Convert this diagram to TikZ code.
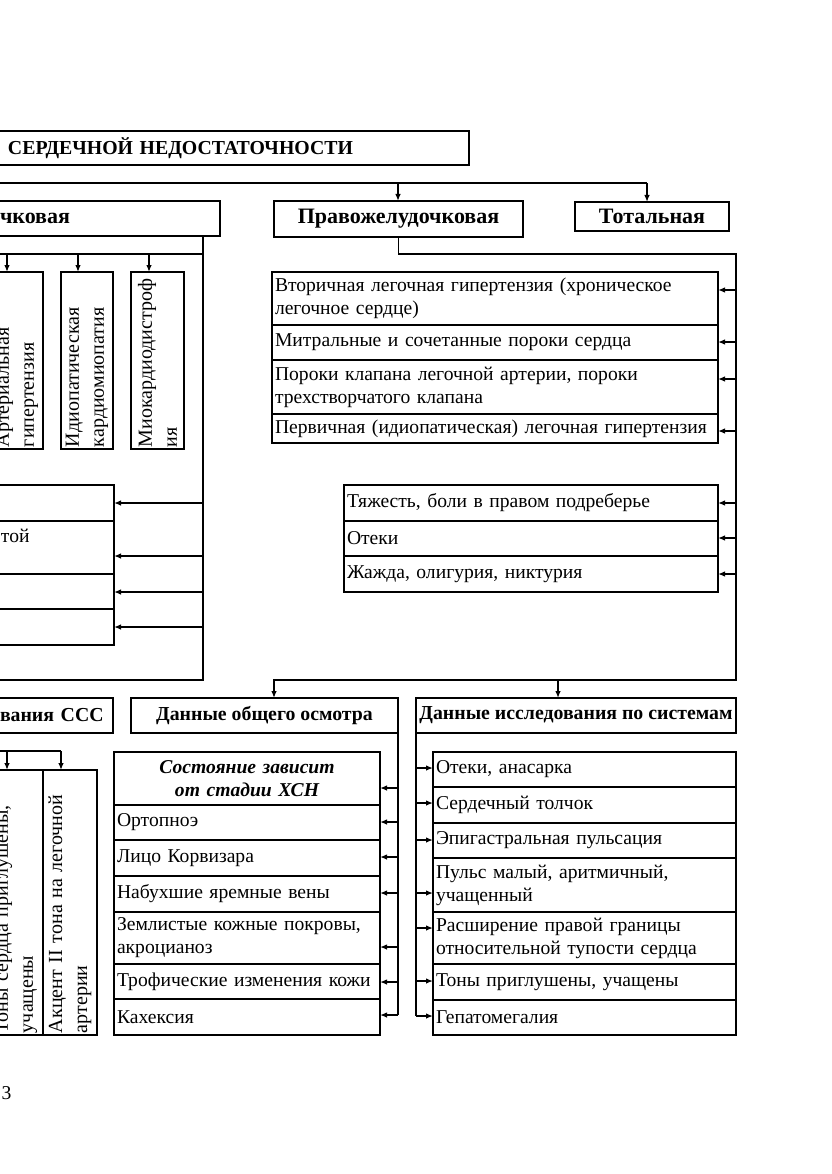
\documentclass[tikz,border=0pt]{standalone}
\usepackage{fontspec}
\setmainfont{Liberation Serif}
\usetikzlibrary{arrows.meta,positioning}

\begin{document}
\begin{tikzpicture}[x=1pt,y=-1pt,line width=1.3pt,font=\fontsize{19.6}{23}\selectfont]
\tikzset{
  cell/.style={draw,rectangle,anchor=north west,outer sep=0pt,inner xsep=3pt,inner ysep=0pt,align=left},
  headbox/.style={draw,rectangle,anchor=north west,outer sep=0pt,inner sep=0pt,font=\fontsize{19.8}{23}\selectfont\bfseries},
  bighead/.style={headbox,font=\fontsize{22}{26}\selectfont\bfseries},
  vcell/.style={draw,rectangle,rotate=90,anchor=north east,outer sep=0pt,inner xsep=2pt,inner ysep=0pt,align=left,font=\fontsize{20}{25}\selectfont},
  cellA/.style={cell,text width=440pt},
  cellB/.style={cell,text width=368pt},
  cellC/.style={cell,text width=110pt},
  cellD/.style={cell,text width=260pt},
  cellE/.style={cell,text width=297pt},
  feed/.style={-{Latex[length=7pt,width=5.5pt]}}
}
\useasboundingbox (0,0) rectangle (831,1174);
\clip (0,0) rectangle (831,1174);
\node[headbox,inner xsep=10pt,text width=451pt,minimum height=34pt,align=left] (n_title) at (-2,131) {СЕРДЕЧНОЙ НЕДОСТАТОЧНОСТИ};
\node[bighead,inner xsep=2pt,text width=218pt,minimum height=35pt,align=left] (n_left) at (-2,201) {чковая};
\node[bighead,minimum width=249pt,minimum height=36pt] (n_right) at (274,201) {Правожелудочковая};
\node[bighead,minimum width=154pt,minimum height=29pt] (n_total) at (575,202) {Тотальная};
\node[vcell,text width=173pt,minimum height=52pt] (n_b1) at (-9,272) {Артериальная\\гипертензия};
\node[vcell,text width=173pt,minimum height=52pt] (n_b2) at (61,272) {Идиопатическая\\кардиомиопатия};
\node[vcell,text width=173pt,minimum height=53pt] (n_b3) at (131,272) {Миокардиодистроф\\ия};
\node[cellA,minimum height=53pt] (n_r1) at (272,272) {Вторичная легочная гипертензия (хроническое\\легочное сердце)};
\node[cellA,minimum height=35pt] (n_r2) at (272,325) {Митральные и сочетанные пороки сердца};
\node[cellA,minimum height=54pt] (n_r3) at (272,360) {Пороки клапана легочной артерии, пороки\\трехстворчатого клапана};
\node[cellA,minimum height=29pt] (n_r4) at (272,414) {Первичная (идиопатическая) легочная гипертензия};
\node[cellC,minimum height=36pt] (n_l1) at (-2,485) {};
\node[cellC,minimum height=53pt] (n_l2) at (-2,521) {той\\~};
\node[cellC,minimum height=35pt] (n_l3) at (-2,574) {};
\node[cellC,minimum height=36pt] (n_l4) at (-2,609) {};
\node[cellB,minimum height=36pt] (n_m1) at (344,485) {Тяжесть, боли в правом подреберье};
\node[cellB,minimum height=35pt] (n_m2) at (344,521) {Отеки};
\node[cellB,minimum height=36pt] (n_m3) at (344,556) {Жажда, олигурия, никтурия};
\node[headbox,inner xsep=2pt,text width=111pt,minimum height=35pt,align=left] (n_ccc) at (-2,698) {вания ССС};
\node[headbox,minimum width=267pt,minimum height=35pt] (n_gen) at (131,698) {Данные общего осмотра};
\node[headbox,minimum width=320pt,minimum height=35pt] (n_sys) at (416,698) {Данные исследования по системам};
\node[vcell,text width=261pt,minimum height=54pt] (n_c1) at (-11,770) {Тоны сердца приглушены,\\учащены};
\node[vcell,text width=261pt,minimum height=54pt] (n_c2) at (43,770) {Акцент II тона на легочной\\артерии};
\node[cellD,minimum height=53pt,align=center,font=\fontsize{19.6}{23}\selectfont\bfseries\itshape] (n_s1) at (114,752) {Состояние зависит\\от стадии ХСН};
\node[cellD,minimum height=35pt] (n_s2) at (114,805) {Ортопноэ};
\node[cellD,minimum height=36pt] (n_s3) at (114,840) {Лицо Корвизара};
\node[cellD,minimum height=36pt] (n_s4) at (114,876) {Набухшие яремные вены};
\node[cellD,minimum height=52pt] (n_s5) at (114,912) {Землистые кожные покровы,\\акроцианоз};
\node[cellD,minimum height=35pt] (n_s6) at (114,964) {Трофические изменения кожи};
\node[cellD,minimum height=36pt] (n_s7) at (114,999) {Кахексия};
\node[cellE,minimum height=35pt] (n_d1) at (433,752) {Отеки, анасарка};
\node[cellE,minimum height=36pt] (n_d2) at (433,787) {Сердечный толчок};
\node[cellE,minimum height=35pt] (n_d3) at (433,823) {Эпигастральная пульсация};
\node[cellE,minimum height=54pt] (n_d4) at (433,858) {Пульс малый, аритмичный,\\учащенный};
\node[cellE,minimum height=52pt] (n_d5) at (433,912) {Расширение правой границы\\относительной тупости сердца};
\node[cellE,minimum height=36pt] (n_d6) at (433,964) {Тоны приглушены, учащены};
\node[cellE,minimum height=35pt] (n_d7) at (433,1000) {Гепатомегалия};
\node[anchor=west,inner sep=0pt] (n_page) at (1,1093) {3};
\coordinate (topbus) at (-4,183);
\coordinate (ta1) at (398,183);
\coordinate (ta2) at (647,183);
\draw (topbus) -- (ta2);
\draw[feed] (ta1) -- (ta1 |- n_right.north);
\draw[feed] (ta2) -- (ta2 |- n_total.north);
\coordinate (lvT) at (203,236);
\coordinate (lvB) at (203,680);
\coordinate (lvE) at (-4,680);
\draw (lvT) -- (lvB) -- (lvE);
\coordinate (lbus) at (-4,254);
\coordinate (la1) at (7,254);
\coordinate (la2) at (78,254);
\coordinate (la3) at (149,254);
\draw (lbus) -- (lbus -| lvT);
\draw[feed] (la1) -- (la1 |- n_b1.east);
\draw[feed] (la2) -- (la2 |- n_b2.east);
\draw[feed] (la3) -- (la3 |- n_b3.east);
\coordinate (lp1) at (203,503);
\coordinate (lp2) at (203,556);
\coordinate (lp3) at (203,592);
\coordinate (lp4) at (203,627);
\draw[feed] (lp1) -- (lp1 -| n_l1.east);
\draw[feed] (lp2) -- (lp2 -| n_l2.east);
\draw[feed] (lp3) -- (lp3 -| n_l3.east);
\draw[feed] (lp4) -- (lp4 -| n_l4.east);
\coordinate (rvT) at (736,254);
\coordinate (rvB) at (736,680);
\coordinate (ga) at (274,680);
\coordinate (sa) at (558,680);
\draw[feed] (n_right.south) |- (rvT) -- (rvB) -- (ga) -- (ga |- n_gen.north);
\draw[feed] (sa) -- (sa |- n_sys.north);
\coordinate (rp1) at (736,290);
\coordinate (rp2) at (736,342);
\coordinate (rp3) at (736,379);
\coordinate (rp4) at (736,431);
\draw[feed] (rp1) -- (rp1 -| n_r1.east);
\draw[feed] (rp2) -- (rp2 -| n_r2.east);
\draw[feed] (rp3) -- (rp3 -| n_r3.east);
\draw[feed] (rp4) -- (rp4 -| n_r4.east);
\coordinate (mp1) at (736,503);
\coordinate (mp2) at (736,538);
\coordinate (mp3) at (736,574);
\draw[feed] (mp1) -- (mp1 -| n_m1.east);
\draw[feed] (mp2) -- (mp2 -| n_m2.east);
\draw[feed] (mp3) -- (mp3 -| n_m3.east);
\coordinate (cbus) at (-4,751);
\coordinate (ca1) at (7,751);
\coordinate (ca2) at (61,751);
\draw (cbus) -- (ca2);
\draw[feed] (ca1) -- (ca1 |- n_c1.east);
\draw[feed] (ca2) -- (ca2 |- n_c2.east);
\coordinate (sp1) at (398,788);
\coordinate (sp2) at (398,822);
\coordinate (sp3) at (398,857);
\coordinate (sp4) at (398,893);
\coordinate (sp5) at (398,947);
\coordinate (sp6) at (398,982);
\coordinate (sp7) at (398,1015);
\draw (n_gen.south east) -- (sp7);
\draw[feed] (sp1) -- (sp1 -| n_s1.east);
\draw[feed] (sp2) -- (sp2 -| n_s2.east);
\draw[feed] (sp3) -- (sp3 -| n_s3.east);
\draw[feed] (sp4) -- (sp4 -| n_s4.east);
\draw[feed] (sp5) -- (sp5 -| n_s5.east);
\draw[feed] (sp6) -- (sp6 -| n_s6.east);
\draw[feed] (sp7) -- (sp7 -| n_s7.east);
\coordinate (dp1) at (416,768);
\coordinate (dp2) at (416,803);
\coordinate (dp3) at (416,840);
\coordinate (dp4) at (416,893);
\coordinate (dp5) at (416,928);
\coordinate (dp6) at (416,981);
\coordinate (dp7) at (416,1016);
\draw (n_sys.south west) -- (dp7);
\draw[feed] (dp1) -- (dp1 -| n_d1.west);
\draw[feed] (dp2) -- (dp2 -| n_d2.west);
\draw[feed] (dp3) -- (dp3 -| n_d3.west);
\draw[feed] (dp4) -- (dp4 -| n_d4.west);
\draw[feed] (dp5) -- (dp5 -| n_d5.west);
\draw[feed] (dp6) -- (dp6 -| n_d6.west);
\draw[feed] (dp7) -- (dp7 -| n_d7.west);
\end{tikzpicture}
\end{document}
